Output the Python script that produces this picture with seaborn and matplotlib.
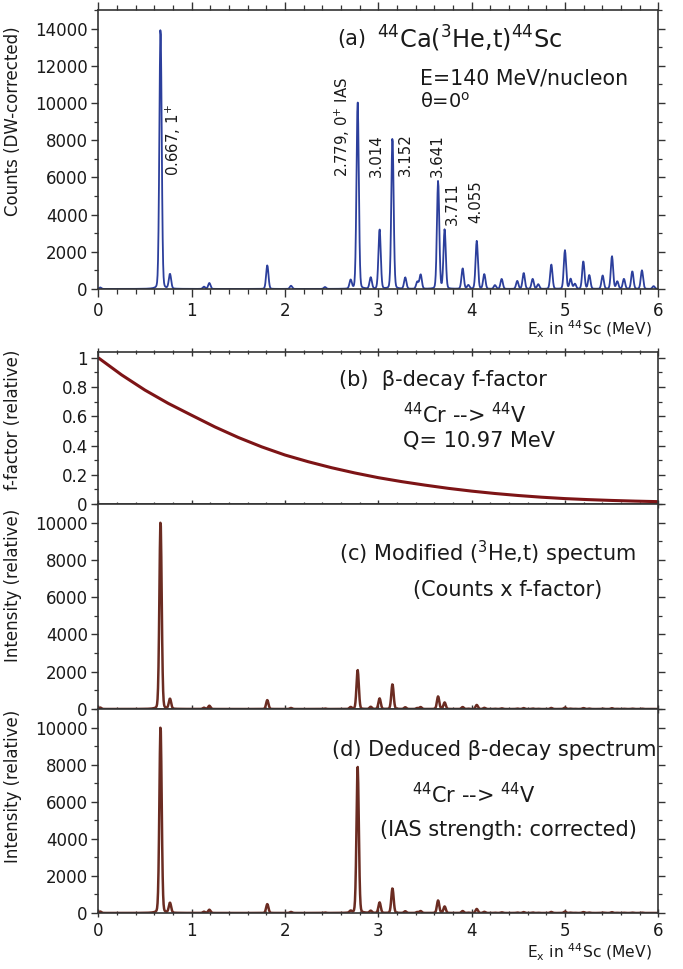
import numpy as np
import pandas as pd
import matplotlib
matplotlib.use("Agg")
import matplotlib.pyplot as plt
import seaborn as sns
from matplotlib.ticker import MultipleLocator, FormatStrFormatter

# ---------------- data ----------------
# (3He,t) peaks: excitation energy (MeV) and DW-corrected counts at peak
peak_energy = [0.02, 0.667, 0.768, 1.133, 1.190, 1.811, 2.065, 2.429,
               2.704, 2.779, 2.919, 3.014, 3.152, 3.289, 3.418, 3.454,
               3.641, 3.711, 3.904, 3.965, 4.055, 4.136, 4.250, 4.322,
               4.489, 4.558, 4.654, 4.714, 4.854, 5.000, 5.061, 5.107,
               5.197, 5.261, 5.404, 5.504, 5.561, 5.632, 5.722, 5.825, 5.95]
peak_counts = [80, 14100, 790, 120, 320, 1270, 170, 100,
               470, 10050, 610, 3190, 8170, 610, 380, 770,
               5810, 3190, 1100, 200, 2580, 790, 200, 540,
               430, 860, 540, 250, 1310, 2080, 540, 270,
               1490, 740, 720, 1760, 400, 540, 950, 1000, 150]

# beta-decay f-factor (relative), 44Cr -> 44V, Q = 10.97 MeV
ffactor_energy = [0.0, 0.25, 0.5, 0.75, 1.0, 1.25, 1.5, 1.75, 2.0, 2.25, 2.5,
                  2.75, 3.0, 3.25, 3.5, 3.75, 4.0, 4.25, 4.5, 4.75, 5.0,
                  5.25, 5.5, 5.75, 6.0]
ffactor_value = [1.0, 0.883, 0.779, 0.688, 0.607, 0.527, 0.455, 0.391, 0.335,
                 0.289, 0.248, 0.212, 0.180, 0.153, 0.129, 0.107, 0.088,
                 0.0717, 0.0579, 0.0463, 0.0368, 0.0298, 0.0242, 0.0196, 0.0159]

# IAS strength in the deduced beta-decay spectrum
ias_energy = 2.779
ias_corrected = 7900

peak_labels = ["0.667, 1$^{+}$", "2.779, 0$^{+}$ IAS", "3.014", "3.152",
               "3.641", "3.711", "4.055"]

# ---------------- derived spectra ----------------
e_grid = np.arange(0.0, 6.0001, 0.005)

def spectrum(centers, heights, sigma=0.0125, gamma=0.014, eta=0.12):
    y = np.zeros_like(e_grid)
    for c, h in zip(centers, heights):
        d = e_grid - c
        y += h * ((1 - eta) * np.exp(-0.5 * (d / sigma) ** 2)
                  + eta * gamma ** 2 / (d ** 2 + gamma ** 2))
    return y

pe = np.array(peak_energy)
pc = np.array(peak_counts, dtype=float)
f_at_peaks = np.interp(pe, ffactor_energy, ffactor_value)
mod_heights = pc * f_at_peaks
ded_heights = mod_heights.copy()
ded_heights[np.argmin(np.abs(pe - ias_energy))] = ias_corrected

df_a = pd.DataFrame({"E": e_grid, "y": spectrum(pe, pc)})
df_b = pd.DataFrame({"E": ffactor_energy, "y": ffactor_value})
df_c = pd.DataFrame({"E": e_grid, "y": spectrum(pe, mod_heights)})
df_d = pd.DataFrame({"E": e_grid, "y": spectrum(pe, ded_heights)})

# ---------------- style ----------------
sns.set_theme(style="ticks")
plt.rcParams["font.family"] = ["DejaVu Sans"]
plt.rcParams["mathtext.fontset"] = "dejavusans"
plt.rcParams["axes.edgecolor"] = "#333333"
plt.rcParams["axes.linewidth"] = 1.2

BLUE = "#2c3f9c"
DARKRED = "#7d1416"
BROWN = "#6b2c22"
TXT = "#1a1a1a"
TICK_FS = 12
LAB_FS = 12
ANN_FS = 15
XLAB = "E$_{\\mathrm{x}}$ in $^{44}$Sc (MeV)"

fig = plt.figure(figsize=(6.83, 9.69), dpi=100)
L, W = 0.1439, 0.8199
ax_a = fig.add_axes([L, 0.7018, W, 0.2879])
ax_b = fig.add_axes([L, 0.4799, W, 0.1569])
ax_c = fig.add_axes([L, 0.2683, W, 0.2116])
ax_d = fig.add_axes([L, 0.0578, W, 0.2105])

sns.lineplot(data=df_a, x="E", y="y", ax=ax_a, color=BLUE, lw=1.3, estimator=None)
sns.lineplot(data=df_b, x="E", y="y", ax=ax_b, color=DARKRED, lw=2.2, estimator=None)
sns.lineplot(data=df_c, x="E", y="y", ax=ax_c, color=BROWN, lw=1.8, estimator=None)
sns.lineplot(data=df_d, x="E", y="y", ax=ax_d, color=BROWN, lw=1.8, estimator=None)

for ax in (ax_a, ax_b, ax_c, ax_d):
    ax.set_xlim(0, 6)
    ax.set_xlabel("")
    ax.set_ylabel("")
    ax.xaxis.set_major_locator(MultipleLocator(1))
    ax.xaxis.set_minor_locator(MultipleLocator(0.2))
    ax.tick_params(axis="y", which="both", direction="out", left=True,
                   right=True, labelright=False, colors="#333333",
                   labelcolor=TXT, labelsize=TICK_FS, pad=2.5)
    ax.tick_params(axis="x", which="both", direction="inout", bottom=True,
                   colors="#333333", labelcolor=TXT, labelsize=TICK_FS)
    ax.tick_params(which="major", length=6, width=1.0)
    ax.tick_params(which="minor", length=3.5, width=0.9)
    ax.tick_params(axis="y", which="major", length=5)
    ax.tick_params(axis="y", which="minor", length=3)
    for s in ax.spines.values():
        s.set_visible(True)

# panel a
ax_a.set_ylim(0, 15000)
ax_a.yaxis.set_major_locator(MultipleLocator(2000))
ax_a.yaxis.set_minor_locator(MultipleLocator(1000))
ax_a.tick_params(axis="x", which="both", direction="out", top=True)
ax_a.set_ylabel("Counts (DW-corrected)", fontsize=LAB_FS, color=TXT)
ax_a.yaxis.set_label_coords(-0.136, 0.60)
ax_a.text(0.427, 0.895, "(a)", transform=ax_a.transAxes, fontsize=15, color=TXT, va="center")
ax_a.text(0.497, 0.895, "$^{44}$Ca($^{3}$He,t)$^{44}$Sc", transform=ax_a.transAxes,
          fontsize=17.3, color=TXT, va="center")
ax_a.text(0.575, 0.755, "E=140 MeV/nucleon", transform=ax_a.transAxes,
          fontsize=14.8, color=TXT, va="center")
ax_a.text(0.575, 0.67, "θ=0$^{\\mathrm{o}}$", transform=ax_a.transAxes,
          fontsize=14, color=TXT, va="center")
lab_pos = [(0.80, 6100), (2.62, 6000), (2.98, 6000), (3.29, 6100),
           (3.63, 6000), (3.79, 3420), (4.05, 3530)]
for txt, (lx, ly) in zip(peak_labels, lab_pos):
    ax_a.text(lx, ly, txt, rotation=90, ha="center", va="bottom",
              fontsize=10.8, color=TXT)
ax_a.text(0.989, -0.108, XLAB, transform=ax_a.transAxes,
          ha="right", va="top", fontsize=11.2, color=TXT)

# panel b
ax_b.set_ylim(0, 1.04)
ax_b.yaxis.set_major_locator(MultipleLocator(0.2))
ax_b.yaxis.set_minor_locator(MultipleLocator(0.1))
ax_b.yaxis.set_major_formatter(FormatStrFormatter("%g"))
ax_b.tick_params(axis="x", which="both", labelbottom=False, top=True)
ax_b.set_ylabel("f-factor (relative)", fontsize=LAB_FS, color=TXT)
ax_b.yaxis.set_label_coords(-0.136, 0.553)
ax_b.text(0.43, 0.815, "(b)  β-decay f-factor", transform=ax_b.transAxes,
          fontsize=ANN_FS, color=TXT, va="center")
ax_b.text(0.544, 0.59, "$^{44}$Cr --> $^{44}$V", transform=ax_b.transAxes,
          fontsize=ANN_FS, color=TXT, va="center")
ax_b.text(0.544, 0.42, "Q= 10.97 MeV", transform=ax_b.transAxes,
          fontsize=ANN_FS, color=TXT, va="center")

# panels c and d
for ax, ly in ((ax_c, 0.605), (ax_d, 0.62)):
    ax.set_ylim(0, 11000)
    ax.yaxis.set_major_locator(MultipleLocator(2000))
    ax.yaxis.set_minor_locator(MultipleLocator(1000))
    ax.set_ylabel("Intensity (relative)", fontsize=LAB_FS, color=TXT)
    ax.yaxis.set_label_coords(-0.136, ly)
ax_c.tick_params(axis="x", which="both", labelbottom=False)
ax_c.text(0.43, 0.76, "(c) Modified ($^{3}$He,t) spectum", transform=ax_c.transAxes,
          fontsize=ANN_FS, color=TXT, va="center")
ax_c.text(0.5625, 0.58, "(Counts x f-factor)", transform=ax_c.transAxes,
          fontsize=ANN_FS, color=TXT, va="center")

ax_d.text(0.418, 0.80, "(d) Deduced β-decay spectrum", transform=ax_d.transAxes,
          fontsize=ANN_FS, color=TXT, va="center")
ax_d.text(0.56, 0.578, "$^{44}$Cr --> $^{44}$V", transform=ax_d.transAxes,
          fontsize=ANN_FS, color=TXT, va="center")
ax_d.text(0.503, 0.407, "(IAS strength: corrected)", transform=ax_d.transAxes,
          fontsize=ANN_FS, color=TXT, va="center")
ax_d.text(0.989, -0.14, XLAB, transform=ax_d.transAxes,
          ha="right", va="top", fontsize=11.2, color=TXT)

fig.savefig("out.png", dpi=100)
